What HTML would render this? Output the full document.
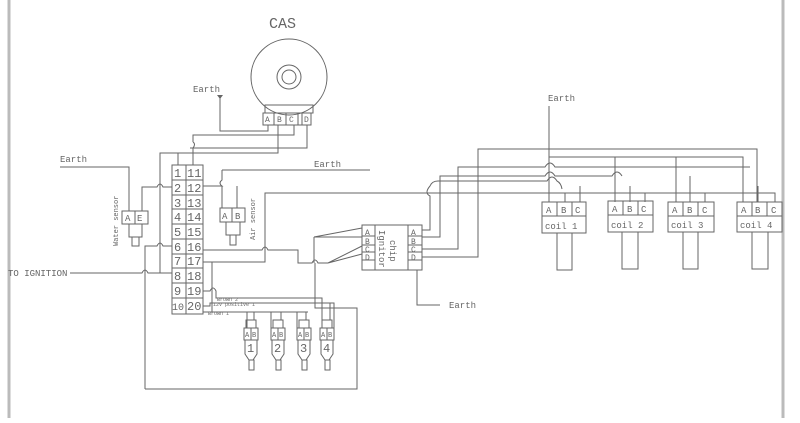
<!DOCTYPE html>
<html><head><meta charset="utf-8"><style>
html,body{margin:0;padding:0;background:#fff;}
svg{display:block}
text{font-family:"Liberation Mono",monospace;fill:#666;}
</style></head><body>
<svg width="800" height="423" viewBox="0 0 800 423" xmlns="http://www.w3.org/2000/svg">
<g fill="none" stroke="#bbb" stroke-width="3">
<line x1="9" y1="0" x2="9" y2="418"/>
<line x1="783" y1="0" x2="783" y2="418"/>
</g>
<g fill="none" stroke="#666" stroke-width="1">
<circle cx="289" cy="77" r="38"/>
<circle cx="289" cy="77" r="12"/>
<circle cx="289" cy="77" r="7"/>
<rect x="265" y="105" width="48" height="8"/>
<rect x="263" y="113" width="48" height="12"/>
<line x1="274" y1="113" x2="274" y2="125"/><line x1="286" y1="113" x2="286" y2="125"/><line x1="298" y1="113" x2="298" y2="125"/><line x1="302" y1="113" x2="302" y2="125"/>
<path d="M220 98 V131 H268 V125"/>
<path d="M278 125 V133 M294 125 V135 H193 V142 M278 133 V153 H160 V165"/>
<path d="M307 125 V148 H190"/>
<path d="M193 142 q3 2 0 6 V165 M178 153 V165"/>
<rect x="172" y="165" width="31" height="149"/>
<line x1="186" y1="165" x2="186" y2="314"/>
<path d="M172 180H203M172 195H203M172 209H203M172 224H203M172 239H203M172 254H203M172 268H203M172 283H203M172 298H203"/>
<path d="M60 167 H129 V211"/>
<path d="M142 211 V187 H157 q3-6 6 0 H172"/>
<rect x="122" y="211" width="26" height="13"/>
<line x1="135" y1="211" x2="135" y2="224"/>
<rect x="129" y="224" width="13" height="13"/>
<rect x="132" y="237" width="7" height="9"/>
<path d="M222 170 H370"/>
<path d="M222 170 V180 q-4 3 0 6 H203 M222 186 V208 M237 208 V186"/>
<rect x="220" y="208" width="25" height="14"/>
<line x1="232" y1="208" x2="232" y2="222"/>
<rect x="226" y="222" width="14" height="13"/>
<rect x="230" y="235" width="6" height="10"/>
<path d="M70 273 H142 q3-6 6 0 H172"/>
<path d="M145 389 V246 H157 q3-6 6 0 H172"/>
<path d="M160 165 V273"/>
<path d="M145 389 H357 V308 H315 V263"/>
<path d="M203 250 H262 q3-6 6 0 H298 V263 H312 q3-6 6 0 H328"/>
<path d="M328 263 L362 246 M328 263 L362 254 M314 237 L362 228 M314 237 L362 237 M314 237 V263"/>
<path d="M203 262 H265 V193 H775 V202"/>
<path d="M212 262 V312"/>
<rect x="362" y="225" width="60" height="45"/>
<line x1="375" y1="225" x2="375" y2="270"/><line x1="408" y1="225" x2="408" y2="270"/>
<path d="M362 236H375M362 245H375M362 252H375M362 260H375M408 236H422M408 245H422M408 252H422M408 260H422"/>
<path d="M417 270 V305 H440"/>
<path d="M422 230 H430 V196 q-6-3 0-10 q2-5 8-5 H547 q5-8 10 0 q4 2 5 8"/>
<path d="M422 237 H440 V176 H545 q5-8 10 0 H612 q5-8 10 0"/>
<path d="M422 249 H458 V167 H545 q5-8 10 0 H750"/>
<path d="M422 257 H478 V149 H757 V202"/>
<path d="M549 106 V202"/>
<path d="M549 157 H743 V202 M615 157 V202 M676 157 V202"/>
<path d="M565 193 V202 M580 186 V202 M630 186 V202 M645 193 V202 M690 176 V202 M705 193 V202 M758 186 V202"/>
<rect x="542" y="202" width="44" height="31"/><line x1="542" y1="216" x2="586" y2="216"/><line x1="557" y1="202" x2="557" y2="216"/><line x1="572" y1="202" x2="572" y2="216"/><rect x="557" y="233" width="15" height="37"/>
<rect x="608" y="201" width="45" height="31"/><line x1="608" y1="215" x2="653" y2="215"/><line x1="623" y1="201" x2="623" y2="215"/><line x1="638" y1="201" x2="638" y2="215"/><rect x="622" y="232" width="16" height="37"/>
<rect x="668" y="202" width="46" height="30"/><line x1="668" y1="216" x2="714" y2="216"/><line x1="683" y1="202" x2="683" y2="216"/><line x1="698" y1="202" x2="698" y2="216"/><rect x="683" y="232" width="15" height="37"/>
<rect x="737" y="202" width="45" height="30"/><line x1="737" y1="216" x2="782" y2="216"/><line x1="752" y1="202" x2="752" y2="216"/><line x1="767" y1="202" x2="767" y2="216"/><rect x="752" y="232" width="16" height="37"/>
<path d="M203 291 H210 q3-6 6 0 V298 H322 V328"/>
<path d="M203 306 H210 V303 H334 V328"/>
<path d="M203 306 V312 H247 V328 M247 312 H308 M271 312 V328 M297 312 V328"/>
<path d="M254 312 V320 M281 312 V320 M306 312 V320 M330 303 V320"/>
<rect x="244" y="328" width="14" height="12"/><line x1="251" y1="328" x2="251" y2="340"/><path d="M245 340 V354 L249 360 H253 L257 354 V340"/><rect x="249" y="360" width="5" height="10"/><rect x="246" y="320" width="10" height="8"/>
<rect x="271" y="328" width="14" height="12"/><line x1="278" y1="328" x2="278" y2="340"/><path d="M272 340 V354 L276 360 H280 L284 354 V340"/><rect x="276" y="360" width="5" height="10"/><rect x="273" y="320" width="10" height="8"/>
<rect x="297" y="328" width="14" height="12"/><line x1="304" y1="328" x2="304" y2="340"/><path d="M298 340 V354 L302 360 H306 L310 354 V340"/><rect x="302" y="360" width="5" height="10"/><rect x="299" y="320" width="10" height="8"/>
<rect x="320" y="328" width="14" height="12"/><line x1="327" y1="328" x2="327" y2="340"/><path d="M321 340 V354 L325 360 H329 L333 354 V340"/><rect x="325" y="360" width="5" height="10"/><rect x="322" y="320" width="10" height="8"/>
</g>
<polygon points="217,95 223,95 220,99" fill="#666"/>
<g font-size="9">
<text x="269" y="28" font-size="15" fill="#999">CAS</text>
<text x="193" y="92">Earth</text>
<text x="60" y="162">Earth</text>
<text x="314" y="167">Earth</text>
<text x="548" y="101">Earth</text>
<text x="449" y="308">Earth</text>
<text x="8" y="276">TO IGNITION</text>
<g font-size="8"><text x="265" y="122">A</text><text x="277" y="122">B</text><text x="289" y="122">C</text><text x="304" y="122">D</text></g>
<g font-size="12" fill="#777"><text x="174" y="177">1</text><text x="187" y="177">11</text><text x="174" y="192">2</text><text x="187" y="192">12</text><text x="174" y="207">3</text><text x="187" y="207">13</text><text x="174" y="221">4</text><text x="187" y="221">14</text><text x="174" y="236">5</text><text x="187" y="236">15</text><text x="174" y="251">6</text><text x="187" y="251">16</text><text x="174" y="265">7</text><text x="187" y="265">17</text><text x="174" y="280">8</text><text x="187" y="280">18</text><text x="174" y="295">9</text><text x="187" y="295">19</text><text x="172" y="310" font-size="10">10</text><text x="187" y="310">20</text></g>
<text x="125" y="221">A</text><text x="137" y="221">E</text>
<text x="222" y="219">A</text><text x="235" y="219">B</text>
<text x="0" y="0" font-size="7" transform="translate(118,246) rotate(-90)">Water sensor</text>
<text x="0" y="0" font-size="7" transform="translate(255,240) rotate(-90)">Air sensor</text>
<text x="0" y="0" transform="translate(379,230) rotate(90)">Ignitor</text>
<text x="0" y="0" transform="translate(390,240) rotate(90)">chip</text>
<g font-size="8"><text x="365" y="235">A</text><text x="365" y="244">B</text><text x="365" y="252">C</text><text x="365" y="260">D</text><text x="411" y="235">A</text><text x="411" y="244">B</text><text x="411" y="252">C</text><text x="411" y="260">D</text></g>
<text x="546" y="213">A</text><text x="561" y="213">B</text><text x="575" y="213">C</text><text x="545" y="229">coil 1</text>
<text x="612" y="212">A</text><text x="627" y="212">B</text><text x="641" y="212">C</text><text x="611" y="228">coil 2</text>
<text x="672" y="213">A</text><text x="687" y="213">B</text><text x="702" y="213">C</text><text x="671" y="228">coil 3</text>
<text x="741" y="213">A</text><text x="755" y="213">B</text><text x="771" y="213">C</text><text x="740" y="228">coil 4</text>
<g font-size="5"><text x="217" y="301">Brown 2</text><text x="213" y="306">12v positive 1</text><text x="208" y="315">Brown 1</text></g>
<g font-size="7"><text x="245" y="337">A</text><text x="252" y="337">B</text><text x="272" y="337">A</text><text x="279" y="337">B</text><text x="298" y="337">A</text><text x="305" y="337">B</text><text x="321" y="337">A</text><text x="328" y="337">B</text></g>
<g font-size="12" fill="#777"><text x="247" y="352">1</text><text x="274" y="352">2</text><text x="300" y="352">3</text><text x="323" y="352">4</text></g>
</g>
</svg>
</body></html>
